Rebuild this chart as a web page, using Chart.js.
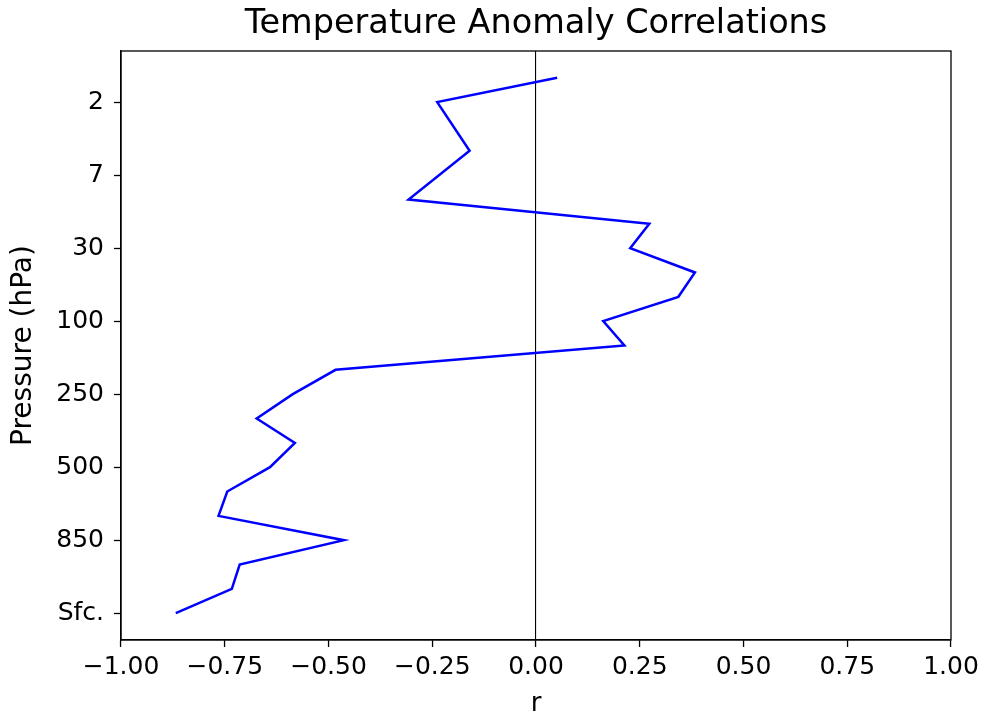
<!DOCTYPE html>
<html>
<head>
<meta charset="utf-8">
<title>Temperature Anomaly Correlations</title>
<script src="https://cdn.jsdelivr.net/npm/chart.js@4/dist/chart.umd.min.js"></script>
<style>
    html, body { margin: 0; padding: 0; background: #fff; }
    #wrap { width: 985px; height: 721px; }
</style>
</head>
<body>
<div id="wrap"><canvas id="chart" width="985" height="721"></canvas></div>
<script>
// Pressure levels, top of the profile first
const levels = ['1', '2', '3', '5', '7', '10', '20', '30', '50', '70', '100', '150',
    '200', '250', '300', '400', '500', '600', '700', '850', '925', '1000', 'Sfc.'];

// Correlation r at each level (null = no value, line just continues)
const rValues = [0.051, -0.238, null, -0.160, null, -0.307, 0.273, 0.227, 0.383, 0.343, 0.162, 0.213,
    -0.483, -0.586, -0.673, -0.581, -0.641, -0.744, -0.765, -0.463, -0.714, -0.733, -0.868];

// Levels that get a tick label on the y axis
const labelledLevels = ['2', '7', '30', '100', '250', '500', '850', 'Sfc.'];

// x axis tick values
const rTicks = [-1, -0.75, -0.5, -0.25, 0, 0.25, 0.5, 0.75, 1];

const FONT = "'DejaVu Sans', sans-serif";

// Build points: x = r, y = level index
const points = rValues.map((r, i) => ({ x: r, y: r === null ? null : i }));
const tickIndices = labelledLevels.map(l => levels.indexOf(l));

// Draw the box round the plot area
const framePlugin = {
    id: 'frame',
    afterDraw(chart) {
        const { ctx, chartArea } = chart;
        ctx.save();
        ctx.strokeStyle = '#000';
        ctx.lineWidth = 1.3;
        ctx.strokeRect(chartArea.left, chartArea.top,
            chartArea.right - chartArea.left, chartArea.bottom - chartArea.top);
        ctx.restore();
    }
};

function formatR(value) {
    return value.toFixed(2).replace('-', '\u2212');
}

new Chart(document.getElementById('chart').getContext('2d'), {
    type: 'line',
    data: {
        datasets: [{
            data: points,
            borderColor: '#0000ff',
            borderWidth: 2.5,
            pointRadius: 0,
            tension: 0,
            spanGaps: true,
            fill: false
        }]
    },
    options: {
        responsive: false,
        animation: false,
        devicePixelRatio: 1,
        layout: { padding: { left: 0, right: 34, top: 0, bottom: 0 } },
        plugins: {
            legend: { display: false },
            tooltip: { enabled: false },
            title: {
                display: true,
                fullSize: false,
                text: 'Temperature Anomaly Correlations',
                color: '#000',
                font: { family: FONT, size: 33.5, weight: 'normal' },
                padding: { top: 4.5, bottom: 6.3 }
            }
        },
        scales: {
            x: {
                type: 'linear',
                min: -1,
                max: 1,
                afterBuildTicks: scale => { scale.ticks = rTicks.map(v => ({ value: v })); },
                afterFit: scale => { scale.height = 81; },
                ticks: {
                    color: '#000',
                    font: { family: FONT, size: 25 },
                    padding: 5,
                    maxRotation: 0,
                    callback: value => formatR(value)
                },
                grid: {
                    drawOnChartArea: true,
                    color: ctx => (ctx.tick && ctx.tick.value === 0) ? '#000' : 'rgba(0,0,0,0)',
                    lineWidth: 1.1,
                    tickColor: '#000',
                    tickLength: 7,
                    tickWidth: 1.3
                },
                border: { display: true, color: '#000', width: 1.3 },
                title: {
                    display: true,
                    text: 'r',
                    color: '#000',
                    font: { family: FONT, size: 26 },
                    padding: { top: 0, bottom: 1 }
                }
            },
            y: {
                type: 'linear',
                reverse: true,
                min: -1.1,
                max: 23.1,
                afterBuildTicks: scale => { scale.ticks = tickIndices.map(v => ({ value: v })); },
                afterFit: scale => { scale.width = 121; },
                ticks: {
                    color: '#000',
                    font: { family: FONT, size: 25 },
                    padding: 10,
                    callback: value => levels[value]
                },
                grid: {
                    drawOnChartArea: false,
                    tickColor: '#000',
                    tickLength: 7,
                    tickWidth: 1.3
                },
                border: { display: true, color: '#000', width: 1.3 },
                title: {
                    display: true,
                    text: 'Pressure (hPa)',
                    color: '#000',
                    font: { family: FONT, size: 28 },
                    padding: { top: 7, bottom: 0 }
                }
            }
        }
    },
    plugins: [framePlugin]
});
</script>
</body>
</html>
